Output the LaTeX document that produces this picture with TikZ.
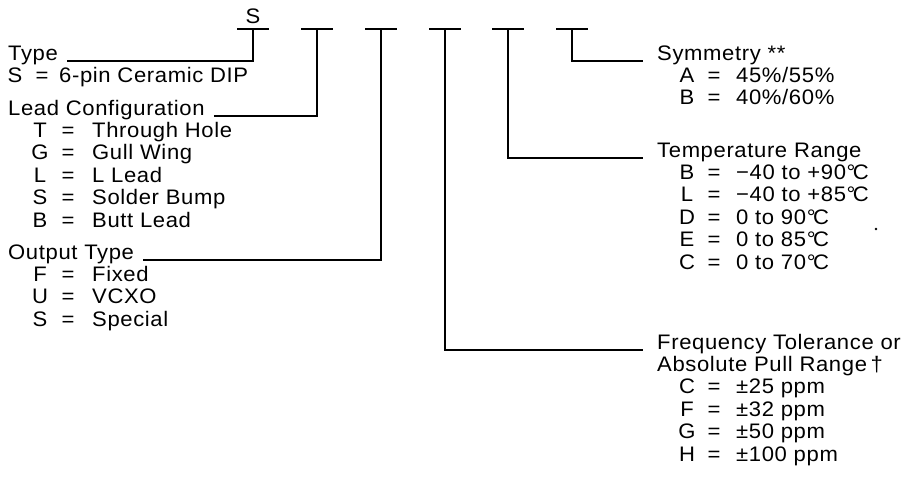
\documentclass[tikz,border=0pt]{standalone}
\usepackage{fontspec}
\setmainfont{Liberation Sans}[LetterSpace=3,FakeStretch=1.05]
\newcommand\degc{°\kern-0.12em C}
\begin{document}
\begin{tikzpicture}[x=1pt,y=-1pt,
  txt/.style={anchor=base west,inner sep=0pt,font=\fontsize{21}{25}\selectfont},
  sym/.style={anchor=base,inner sep=0pt,font=\fontsize{21}{25}\selectfont},
  leader/.style={line width=1.1pt}]
\useasboundingbox (0,0) rectangle (918,480);

% ====================
% Part number: the letter S and the six blanks
\node[sym] (pkg) at (253,23) {S};
\foreach \x [count=\i] in {253,317,381,445,508,572} {
  \coordinate (t\i) at (\x,29);
  \draw[leader] ([xshift=-16pt]t\i) -- ([xshift=16pt]t\i);
}

% ====================
% Type
\node[txt] (type) at (8,60) {Type};
\draw[leader] ([xshift=9pt,yshift=-1pt]type.base east) -| (t1);
\node[sym] (type-k) at (15,82.4) {S};
\node[sym] (type-eq) at (42,82.4) {=};
\node[txt] (type-v) at (59,82.4) {6-pin Ceramic DIP};

% ====================
% Lead configuration
\node[txt] (lead) at (8,115) {Lead Configuration};
\draw[leader] ([xshift=9pt,yshift=-1pt]lead.base east) -| (t2);
\foreach \k/\v [count=\i] in {T/Through Hole,G/Gull Wing,L/L Lead,S/Solder Bump,B/Butt Lead} {
  \node[sym] (lead-k\i) at (40,115+22.4*\i) {\k};
  \node[sym] (lead-eq\i) at (68,115+22.4*\i) {=};
  \node[txt] (lead-v\i) at (92,115+22.4*\i) {\v};
}

% ====================
% Output type
\node[txt] (out) at (8,259) {Output Type};
\draw[leader] ([xshift=9pt,yshift=-1pt]out.base east) -| (t3);
\foreach \k/\v [count=\i] in {F/Fixed,U/VCXO,S/Special} {
  \node[sym] (out-k\i) at (40,259+22.4*\i) {\k};
  \node[sym] (out-eq\i) at (68,259+22.4*\i) {=};
  \node[txt] (out-v\i) at (92,259+22.4*\i) {\v};
}

% ====================
% Symmetry
\node[txt] (symm) at (657,60) {Symmetry **};
\draw[leader] (t6) |- ([xshift=-14pt,yshift=-1pt]symm.base west);
\foreach \k/\v [count=\i] in {A/{45\%/55\%},B/{40\%/60\%}} {
  \node[sym] (symm-k\i) at (687,60+22.4*\i) {\k};
  \node[sym] (symm-eq\i) at (714,60+22.4*\i) {=};
  \node[txt] (symm-v\i) at (736,60+22.4*\i) {\v};
}

% ====================
% Temperature range
\node[txt] (temp) at (657,157) {Temperature Range};
\draw[leader] (t5) |- ([xshift=-14pt,yshift=-1pt]temp.base west);
\foreach \k/\v [count=\i] in {B/{−40 to +90\degc},L/{−40 to +85\degc},D/{0 to 90\degc},E/{0 to 85\degc},C/{0 to 70\degc}} {
  \node[sym] (temp-k\i) at (687,157+22.4*\i) {\k};
  \node[sym] (temp-eq\i) at (714,157+22.4*\i) {=};
  \node[txt] (temp-v\i) at (736,157+22.4*\i) {\v};
}
\fill (876,229) circle (1.3pt);

% ====================
% Frequency tolerance / pull range
\node[txt] (freq) at (657,349) {Frequency Tolerance or};
\node[txt] (pull) at (657,371.4) {Absolute Pull Range\,†};
\draw[leader] (t4) |- ([xshift=-14pt,yshift=-1pt]freq.base west);
\foreach \k/\v [count=\i] in {C/{±25 ppm},F/{±32 ppm},G/{±50 ppm},H/{±100 ppm}} {
  \node[sym] (freq-k\i) at (687,371.4+22.4*\i) {\k};
  \node[sym] (freq-eq\i) at (714,371.4+22.4*\i) {=};
  \node[txt] (freq-v\i) at (736,371.4+22.4*\i) {\v};
}
\end{tikzpicture}
\end{document}
